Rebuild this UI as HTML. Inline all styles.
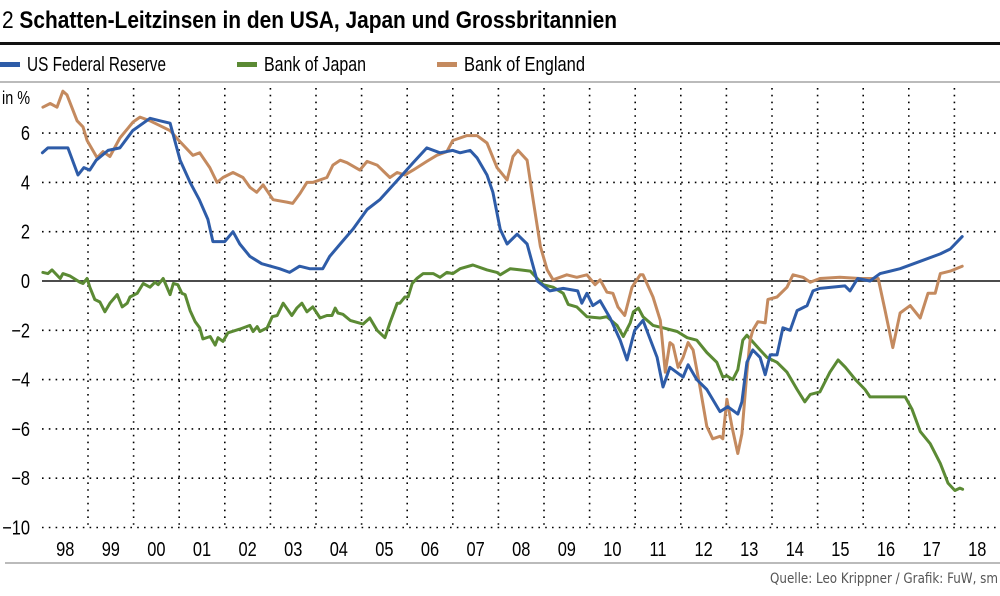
<!DOCTYPE html>
<html><head><meta charset="utf-8"><style>
body{margin:0;background:#fff;}
svg text{font-family:"Liberation Sans Narrow","Liberation Sans",sans-serif;}
</style></head><body>
<svg id="chart" width="1000" height="591" viewBox="0 0 1000 591" xmlns="http://www.w3.org/2000/svg">
<text x="2" y="28" font-size="24" font-weight="bold" fill="#000" textLength="615" lengthAdjust="spacingAndGlyphs"><tspan font-weight="normal">2</tspan>  Schatten-Leitzinsen in den USA, Japan und Grossbritannien</text>
<rect x="0" y="42" width="1000" height="3" fill="#111"/>
<g>
<g><rect x="0" y="62" width="20" height="5" fill="#2e5ca8"/><text x="27" y="71" font-size="20" fill="#000" textLength="139" lengthAdjust="spacingAndGlyphs">US Federal Reserve</text></g>
<g><rect x="237" y="62" width="20" height="5" fill="#5b8a34"/><text x="264" y="71" font-size="20" fill="#000" textLength="102" lengthAdjust="spacingAndGlyphs">Bank of Japan</text></g>
<g><rect x="437" y="62" width="20" height="5" fill="#c48a5f"/><text x="464" y="71" font-size="20" fill="#000" textLength="121" lengthAdjust="spacingAndGlyphs">Bank of England</text></g>
</g>
<rect x="0" y="81" width="1000" height="2" fill="#bbb"/>
<text x="2" y="104" font-size="18" fill="#000" textLength="28" lengthAdjust="spacingAndGlyphs">in %</text>
<g id="grid"></g><g id="axes"></g><g id="series"></g>
<rect x="5" y="562" width="995" height="2" fill="#bbb"/>
<text x="770" y="583" font-size="14" fill="#555" textLength="228" lengthAdjust="spacingAndGlyphs" style="font-family:'DejaVu Sans Condensed','Liberation Sans',sans-serif">Quelle: Leo Krippner / Grafik: FuW, sm</text>
</svg>
<script>
const yTicks=[6,4,2,0,-2,-4,-6,-8,-10];
const yTickLabels=["6","4","2","0","−2","−4","−6","−8","−10"];
const years=[1998,1999,2000,2001,2002,2003,2004,2005,2006,2007,2008,2009,2010,2011,2012,2013,2014,2015,2016,2017,2018];
const yearLabels=["98","99","00","01","02","03","04","05","06","07","08","09","10","11","12","13","14","15","16","17","18"];
const usDates=[1998.0,1998.12,1998.56,1998.78,1998.91,1999.04,1999.18,1999.44,1999.70,1999.98,2000.36,2000.58,2000.80,2001.02,2001.24,2001.44,2001.63,2001.74,2002.0,2002.18,2002.33,2002.55,2002.81,2003.20,2003.42,2003.64,2003.86,2004.15,2004.30,2004.53,2004.81,2005.12,2005.40,2005.84,2006.13,2006.43,2006.72,2007.0,2007.16,2007.38,2007.53,2007.75,2007.88,2008.04,2008.19,2008.41,2008.63,2008.85,2009.13,2009.42,2009.74,2009.83,2009.94,2010.07,2010.23,2010.45,2010.67,2010.82,2010.99,2011.17,2011.48,2011.61,2011.76,2012.05,2012.16,2012.35,2012.57,2012.86,2013.03,2013.25,2013.34,2013.45,2013.58,2013.74,2013.85,2013.96,2014.11,2014.24,2014.40,2014.55,2014.77,2014.90,2015.05,2015.60,2015.71,2015.88,2016.15,2016.37,2016.81,2017.25,2017.69,2017.91,2018.17];
const usValues=[5.2,5.4,5.4,4.3,4.6,4.5,4.9,5.3,5.4,6.1,6.6,6.5,6.4,4.9,4.0,3.3,2.5,1.6,1.6,2.0,1.5,1.0,0.7,0.5,0.35,0.6,0.5,0.5,1.0,1.5,2.1,2.9,3.3,4.2,4.8,5.4,5.2,5.3,5.2,5.3,5.0,4.3,3.6,2.1,1.5,1.9,1.5,0.0,-0.4,-0.3,-0.4,-0.9,-0.5,-1.0,-0.8,-1.5,-2.4,-3.2,-2.0,-1.6,-3.1,-4.3,-3.5,-3.9,-3.4,-4.0,-4.4,-5.3,-5.1,-5.4,-4.9,-3.3,-2.8,-3.1,-3.8,-3.0,-3.0,-1.9,-2.0,-1.2,-1.0,-0.4,-0.3,-0.2,-0.4,0.1,0.0,0.3,0.5,0.8,1.1,1.3,1.8];
const boeDates=[1998.01,1998.17,1998.32,1998.45,1998.54,1998.76,1998.89,1998.98,1999.20,1999.33,1999.48,1999.70,1999.99,2000.14,2000.36,2000.58,2000.80,2001.02,2001.30,2001.45,2001.67,2001.83,2001.96,2002.18,2002.40,2002.55,2002.70,2002.84,2003.06,2003.36,2003.49,2003.65,2003.80,2003.93,2004.24,2004.37,2004.53,2004.68,2004.96,2005.12,2005.34,2005.62,2005.78,2005.95,2006.13,2006.43,2006.65,2006.87,2007.00,2007.31,2007.53,2007.75,2007.97,2008.19,2008.32,2008.43,2008.63,2008.76,2008.92,2009.07,2009.20,2009.50,2009.72,2009.94,2010.12,2010.23,2010.38,2010.51,2010.62,2010.77,2010.93,2011.11,2011.17,2011.39,2011.55,2011.66,2011.76,2011.83,2011.94,2012.05,2012.16,2012.27,2012.42,2012.57,2012.70,2012.86,2012.92,2013.01,2013.12,2013.25,2013.34,2013.45,2013.52,2013.58,2013.69,2013.85,2013.91,2014.11,2014.33,2014.46,2014.68,2014.84,2015.05,2015.49,2015.93,2016.33,2016.48,2016.65,2016.81,2017.03,2017.25,2017.42,2017.58,2017.69,2017.91,2018.17];
const boeValues=[7.05,7.2,7.05,7.7,7.55,6.5,6.25,5.7,5.0,5.25,5.05,5.8,6.45,6.65,6.5,6.3,6.1,5.65,5.1,5.2,4.6,4.0,4.2,4.4,4.2,3.8,3.6,3.9,3.3,3.2,3.15,3.55,4.0,4.0,4.2,4.7,4.9,4.8,4.5,4.85,4.7,4.2,4.4,4.3,4.5,4.85,5.1,5.25,5.7,5.9,5.9,5.6,4.6,4.1,5.05,5.3,4.9,3.3,1.4,0.45,0.05,0.25,0.15,0.25,-0.15,0.05,-0.45,-0.5,-1.05,-1.4,-0.25,0.25,0.25,-0.65,-1.6,-3.7,-2.5,-2.6,-3.5,-3.1,-2.5,-2.8,-4.3,-5.9,-6.4,-6.3,-6.4,-4.8,-5.9,-7.0,-6.2,-3.7,-2.4,-2.0,-1.65,-1.7,-0.75,-0.65,-0.25,0.25,0.15,-0.05,0.1,0.15,0.1,0.1,-1.2,-2.7,-1.3,-1.0,-1.5,-0.5,-0.5,0.3,0.4,0.6];
const bojDates=[1998.01,1998.12,1998.21,1998.39,1998.45,1998.61,1998.82,1998.89,1998.98,1999.04,1999.15,1999.26,1999.37,1999.48,1999.64,1999.75,1999.86,1999.92,2000.08,2000.21,2000.36,2000.47,2000.54,2000.65,2000.80,2000.87,2000.97,2001.06,2001.13,2001.24,2001.35,2001.45,2001.52,2001.68,2001.79,2001.85,2001.96,2002.07,2002.33,2002.55,2002.62,2002.71,2002.77,2002.93,2003.04,2003.15,2003.28,2003.47,2003.58,2003.69,2003.80,2003.93,2004.09,2004.24,2004.35,2004.42,2004.48,2004.59,2004.75,2005.03,2005.18,2005.34,2005.51,2005.62,2005.78,2005.84,2005.95,2006.02,2006.11,2006.21,2006.35,2006.57,2006.72,2006.87,2007.0,2007.16,2007.44,2007.75,2007.97,2008.04,2008.26,2008.48,2008.70,2008.98,2009.20,2009.42,2009.53,2009.72,2009.94,2010.23,2010.38,2010.60,2010.74,2010.89,2010.96,2011.07,2011.17,2011.39,2011.61,2011.92,2012.14,2012.35,2012.57,2012.79,2012.92,2013.01,2013.14,2013.25,2013.36,2013.45,2013.74,2013.89,2014.11,2014.33,2014.55,2014.72,2014.84,2015.05,2015.27,2015.45,2015.61,2015.83,2016.04,2016.15,2016.92,2017.07,2017.25,2017.47,2017.69,2017.86,2018.01,2018.12,2018.18];
const bojValues=[0.35,0.3,0.45,0.1,0.3,0.2,-0.05,-0.1,0.1,-0.25,-0.75,-0.85,-1.25,-0.9,-0.55,-1.05,-0.9,-0.65,-0.5,-0.1,-0.25,-0.05,-0.15,0.1,-0.55,-0.1,-0.15,-0.5,-0.55,-1.2,-1.65,-1.9,-2.35,-2.25,-2.6,-2.3,-2.45,-2.1,-1.95,-1.8,-2.05,-1.85,-2.05,-1.9,-1.45,-1.4,-0.9,-1.4,-1.1,-0.9,-1.25,-1.05,-1.5,-1.4,-1.4,-1.1,-1.3,-1.35,-1.6,-1.75,-1.5,-2.0,-2.3,-1.7,-0.9,-0.9,-0.65,-0.65,-0.1,0.1,0.3,0.3,0.15,0.35,0.3,0.5,0.65,0.45,0.35,0.25,0.5,0.45,0.4,-0.15,-0.25,-0.5,-0.95,-1.05,-1.45,-1.5,-1.45,-1.8,-2.25,-1.7,-1.25,-1.1,-1.45,-1.8,-1.9,-2.05,-2.3,-2.4,-2.9,-3.3,-3.9,-3.85,-4.0,-3.6,-2.4,-2.2,-2.8,-3.1,-3.3,-3.7,-4.4,-4.9,-4.6,-4.5,-3.7,-3.2,-3.5,-4.0,-4.4,-4.7,-4.7,-5.2,-6.1,-6.6,-7.4,-8.2,-8.5,-8.4,-8.45];

const NS="http://www.w3.org/2000/svg";
const X0=42.4, YW=45.6, Y0=281, YU=24.65, SX=0.82;
function xs(t){return X0+(t-1998)*YW;}
function ys(v){return Y0-v*YU;}
function mk(tag,attrs,parent){const e=document.createElementNS(NS,tag);for(const k in attrs)e.setAttribute(k,attrs[k]);parent.appendChild(e);return e;}
const grid=document.getElementById('grid'),axes=document.getElementById('axes'),series=document.getElementById('series');
yTicks.forEach((v,i)=>{
  if(v!==0){const l=mk('line',{x1:42,x2:1000,y1:ys(v),y2:ys(v),stroke:'#000','stroke-width':1.6,'stroke-dasharray':'1.6 5.2'},grid);
  
  }
  const t=mk('text',{x:0,y:0,transform:'translate(30,'+(ys(v)+7)+') scale('+SX+',1)','font-size':20,'text-anchor':'end',fill:'#000'},axes);
  t.textContent=yTickLabels[i];
  
  
});
years.forEach((y,i)=>{
  if(i>0){const l=mk('line',{x1:xs(y),x2:xs(y),y1:88,y2:528,stroke:'#000','stroke-width':1.6,'stroke-dasharray':'1.6 5.2'},grid);
  
  }
  const t=mk('text',{x:0,y:0,transform:'translate('+(xs(y)+YW/2)+',556) scale('+SX+',1)','font-size':20,'text-anchor':'middle',fill:'#000'},axes);
  t.textContent=yearLabels[i];
  
  
});
const zl=mk('line',{x1:42,x2:1000,y1:ys(0),y2:ys(0),stroke:'#333','stroke-width':1.8},axes);


function draw(d,v,color,name){
  const pts=d.map((t,i)=>xs(t).toFixed(1)+','+ys(v[i]).toFixed(1)).join(' ');
  const p=mk('polyline',{points:pts,fill:'none',stroke:color,'stroke-width':3,'stroke-linejoin':'round','stroke-linecap':'round'},series);
  
  
}
draw(bojDates,bojValues,'#5b8a34','line-bank-of-japan');
draw(boeDates,boeValues,'#c48a5f','line-bank-of-england');
draw(usDates,usValues,'#2e5ca8','line-us-federal-reserve');
</script>
</body></html>
